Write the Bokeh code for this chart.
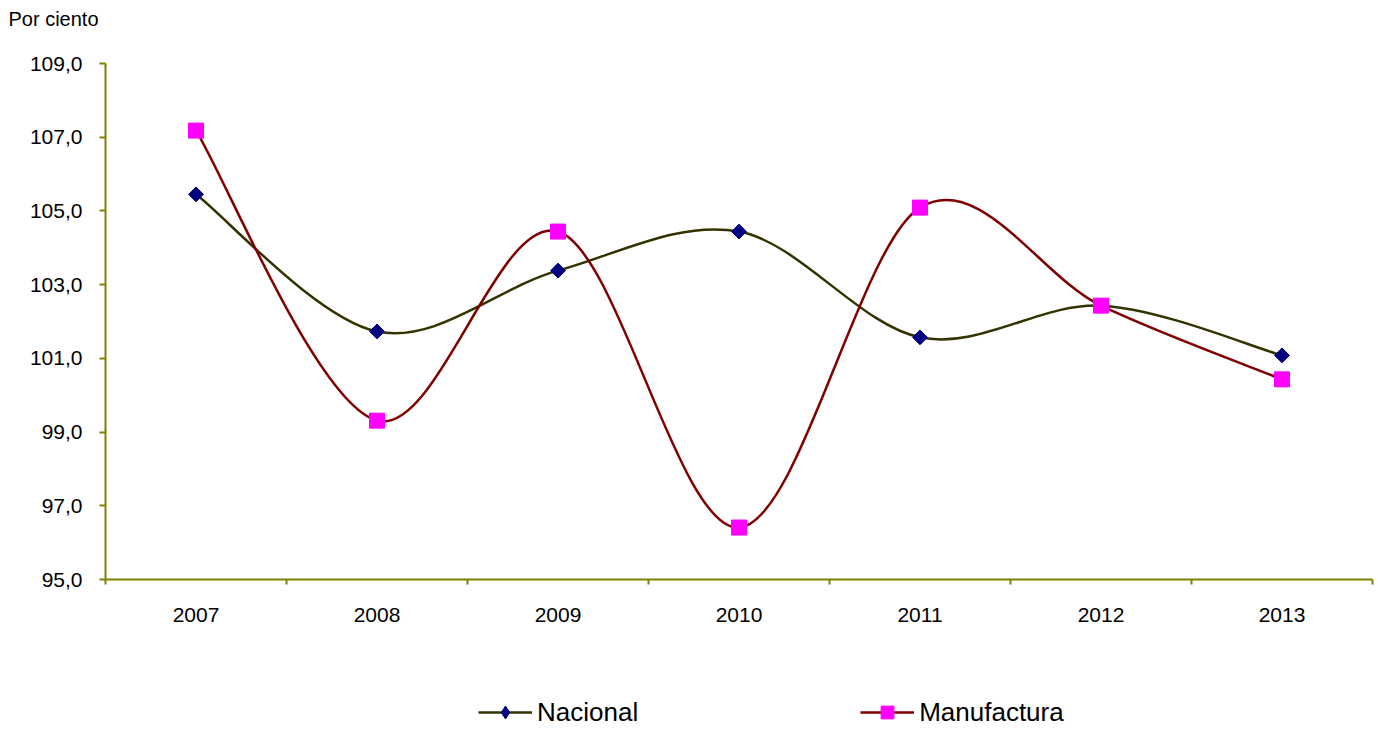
import numpy as np
from bokeh.plotting import figure
from bokeh.models import (Range1d, FixedTicker, Legend, LegendItem, ColumnDataSource, Label)
from bokeh.embed import file_html
from bokeh.resources import INLINE

years = ["2007", "2008", "2009", "2010", "2011", "2012", "2013"]
nacional = [105.45, 101.73, 103.38, 104.44, 101.57, 102.43, 101.08]
manufactura = [107.18, 99.31, 104.44, 96.41, 105.09, 102.43, 100.43]
y_ticks = [95, 97, 99, 101, 103, 105, 107, 109]
y_tick_labels = ["95,0", "97,0", "99,0", "101,0", "103,0", "105,0", "107,0", "109,0"]

FONT = "Liberation Sans"
AXIS_COLOR = "#808000"

W, H = 1378, 730
# plot area in pixels (layout only)
PL, PR, PT, PB = 105, 1372, 63, 579
Y0, Y1 = 95, 109
n = len(years)
xs = [i + 0.5 for i in range(n)]

# ranges chosen so that the whole canvas is the frame (no clipping of legend / note)
xpx = (PR - PL) / n
ypx = (PB - PT) / (Y1 - Y0)
x_range = Range1d(-PL / xpx, n + (W - PR) / xpx)
y_range = Range1d(Y0 - (H - PB) / ypx, Y1 + PT / ypx)


def smooth_segments(x, y):
    """Catmull-Rom style Bezier control points (Excel-like smoothed line)."""
    m = len(x)
    d = dict(x0=[], y0=[], x1=[], y1=[], cx0=[], cy0=[], cx1=[], cy1=[])
    for i in range(m - 1):
        p0 = i - 1 if i > 0 else i
        p3 = i + 2 if i + 2 < m else i + 1
        d["x0"].append(x[i]); d["y0"].append(y[i])
        d["x1"].append(x[i + 1]); d["y1"].append(y[i + 1])
        d["cx0"].append(x[i] + (x[i + 1] - x[p0]) / 6.0)
        d["cy0"].append(y[i] + (y[i + 1] - y[p0]) / 6.0)
        d["cx1"].append(x[i + 1] - (x[p3] - x[i]) / 6.0)
        d["cy1"].append(y[i + 1] - (y[p3] - y[i]) / 6.0)
    return ColumnDataSource(d)


p = figure(width=W, height=H, output_backend="svg", toolbar_location=None,
           x_range=x_range, y_range=y_range,
           min_border=0, min_border_left=0, min_border_right=0,
           min_border_top=0, min_border_bottom=0)
p.title.visible = False
p.outline_line_color = None
p.xgrid.visible = False
p.ygrid.visible = False
p.background_fill_color = "white"
p.border_fill_color = "white"

# x axis
xa = p.xaxis[0]
xa.fixed_location = Y0
xa.bounds = (0, n)
xa.ticker = FixedTicker(ticks=xs, minor_ticks=list(range(n + 1)))
xa.major_label_overrides = {x: yv for x, yv in zip(xs, years)}
xa.axis_line_color = AXIS_COLOR
xa.axis_line_width = 2
xa.major_tick_line_color = None
xa.major_tick_out = 5
xa.major_tick_in = 0
xa.minor_tick_line_color = AXIS_COLOR
xa.minor_tick_line_width = 2
xa.minor_tick_out = 5
xa.minor_tick_in = 0
xa.major_label_standoff = 23
xa.major_label_text_font = FONT
xa.major_label_text_font_size = "21px"
xa.major_label_text_color = "black"

# y axis
ya = p.yaxis[0]
ya.fixed_location = 0
ya.bounds = (Y0, Y1)
ya.ticker = FixedTicker(ticks=y_ticks, minor_ticks=[])
ya.major_label_overrides = {t: l for t, l in zip(y_ticks, y_tick_labels)}
ya.axis_line_color = AXIS_COLOR
ya.axis_line_width = 2
ya.major_tick_line_color = AXIS_COLOR
ya.major_tick_line_width = 2
ya.major_tick_out = 6
ya.major_tick_in = 0
ya.minor_tick_line_color = None
ya.major_label_standoff = 17
ya.major_label_text_font = FONT
ya.major_label_text_font_size = "21px"
ya.major_label_text_color = "black"

# series
src_n = smooth_segments(xs, nacional)
src_m = smooth_segments(xs, manufactura)

bz_n = p.bezier(x0="x0", y0="y0", x1="x1", y1="y1", cx0="cx0", cy0="cy0", cx1="cx1", cy1="cy1",
                source=src_n, line_color="#333300", line_width=2.5)
bz_m = p.bezier(x0="x0", y0="y0", x1="x1", y1="y1", cx0="cx0", cy0="cy0", cx1="cx1", cy1="cy1",
                source=src_m, line_color="#800000", line_width=2.5)

sc_n = p.scatter(xs, nacional, marker="square", angle=np.pi / 4, size=10.5,
                 fill_color="#000080", line_color="#000080")
# same points as diamonds (hidden inside the rotated squares) -> diamond glyph in the legend
sc_n_leg = p.scatter(xs, nacional, marker="diamond", size=13,
                     fill_color="#000080", line_color="#000080")
sc_m = p.scatter(xs, manufactura, marker="square", size=15,
                 fill_color="#FF00FF", line_color="#FF00FF")

legend = Legend(items=[LegendItem(label="Nacional", renderers=[bz_n, sc_n_leg]),
                       LegendItem(label="Manufactura", renderers=[bz_m, sc_m])],
                orientation="horizontal", location=(478, 2),
                spacing=222, glyph_width=54, glyph_height=32, label_standoff=5,
                padding=0, margin=0, border_line_color=None, background_fill_alpha=0,
                label_text_font=FONT, label_text_font_size="26px", label_text_color="black")
p.add_layout(legend, "center")

p.add_layout(Label(x=8, y=H - 18, x_units="screen", y_units="screen", text="Por ciento",
                   text_font=FONT, text_font_size="20px", text_baseline="middle",
                   text_color="black"))

open("out.html", "w").write(file_html(p, INLINE))
